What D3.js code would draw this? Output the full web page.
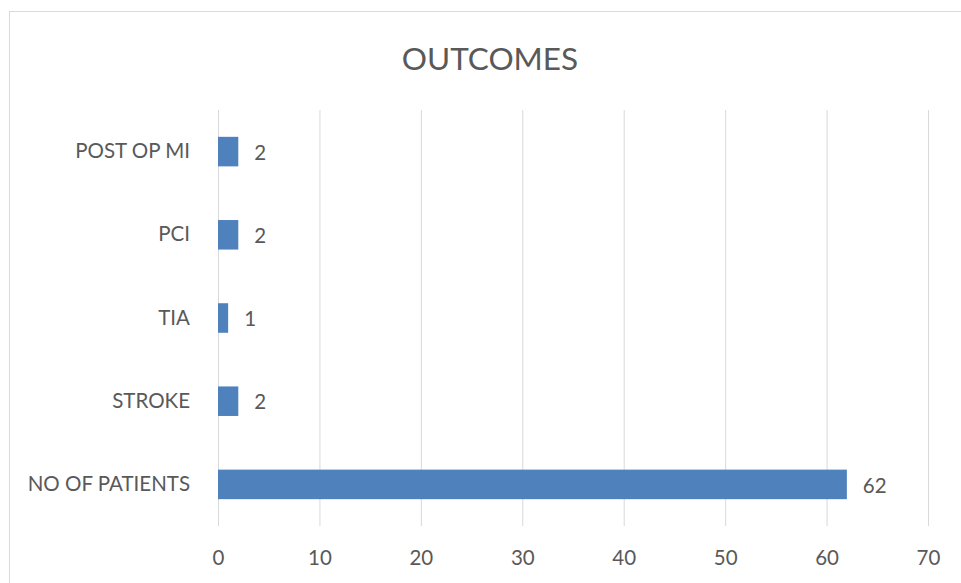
<!DOCTYPE html>
<html>
<head>
<meta charset="utf-8">
<script src="https://cdn.jsdelivr.net/npm/d3@7"></script>
<style>
  body { margin: 0; background: #fff; }
  svg text { font-family: Lato, "Open Sans", sans-serif; fill: #595959; }
</style>
</head>
<body>
<div id="chart"></div>
<script>
// chart data
const categories = ["POST OP MI", "PCI", "TIA", "STROKE", "NO OF PATIENTS"];
const values = [2, 2, 1, 2, 62];
const xTicks = [0, 10, 20, 30, 40, 50, 60, 70];

const width = 961;
const height = 583;
const margin = { top: 110, right: 33, bottom: 57, left: 218 };
const innerW = width - margin.left - margin.right;
const innerH = height - margin.top - margin.bottom;

const svg = d3.select("#chart")
    .append("svg")
    .attr("width", width)
    .attr("height", height);

// outer chart border (only top/left visible in the crop)
svg.append("rect")
    .attr("x", 9.5)
    .attr("y", 11.5)
    .attr("width", width + 20)
    .attr("height", height + 20)
    .attr("fill", "#fff")
    .attr("stroke", "#d9d9d9");

svg.append("text")
    .attr("x", 490)
    .attr("y", 70)
    .attr("text-anchor", "middle")
    .style("font-size", "31.5px")
    .text("OUTCOMES");

const g = svg.append("g")
    .attr("transform", `translate(${margin.left},${margin.top})`);

const xScale = d3.scaleLinear()
    .domain([0, 70])
    .range([0, innerW]);

const yScale = d3.scaleBand()
    .domain(categories)
    .range([0, innerH])
    .paddingInner(0.645)
    .paddingOuter(0.3225);

// gridlines
g.append("g")
    .attr("class", "grid")
    .attr("transform", `translate(0,${innerH})`)
    .call(d3.axisBottom(xScale).tickValues(xTicks).tickSize(-innerH).tickFormat(""))
    .call(s => s.select(".domain").remove())
    .call(s => s.selectAll("line").attr("stroke", "#d9d9d9"));

// x axis labels
g.append("g")
    .attr("transform", `translate(0,${innerH})`)
    .call(d3.axisBottom(xScale).tickValues(xTicks).tickSize(0).tickPadding(24))
    .call(s => s.select(".domain").remove())
    .call(s => s.selectAll("text").style("font-size", "20.5px").attr("fill", "#595959"));

// y axis labels
g.append("g")
    .call(d3.axisLeft(yScale).tickSize(0).tickPadding(28))
    .call(s => s.select(".domain").remove())
    .call(s => s.selectAll("text").style("font-size", "20.5px").attr("fill", "#595959"));

// bars
g.selectAll(".bar")
    .data(values)
    .enter()
    .append("rect")
    .attr("class", "bar")
    .attr("x", xScale(0))
    .attr("y", (d, i) => yScale(categories[i]))
    .attr("width", d => xScale(d) - xScale(0))
    .attr("height", yScale.bandwidth())
    .attr("fill", "#4f81bd");

// value labels
g.selectAll(".val")
    .data(values)
    .enter()
    .append("text")
    .attr("class", "val")
    .attr("x", d => xScale(d) + 16)
    .attr("y", (d, i) => yScale(categories[i]) + yScale.bandwidth() / 2)
    .attr("dy", "0.4em")
    .style("font-size", "20.5px")
    .text(d => d);
</script>
</body>
</html>
